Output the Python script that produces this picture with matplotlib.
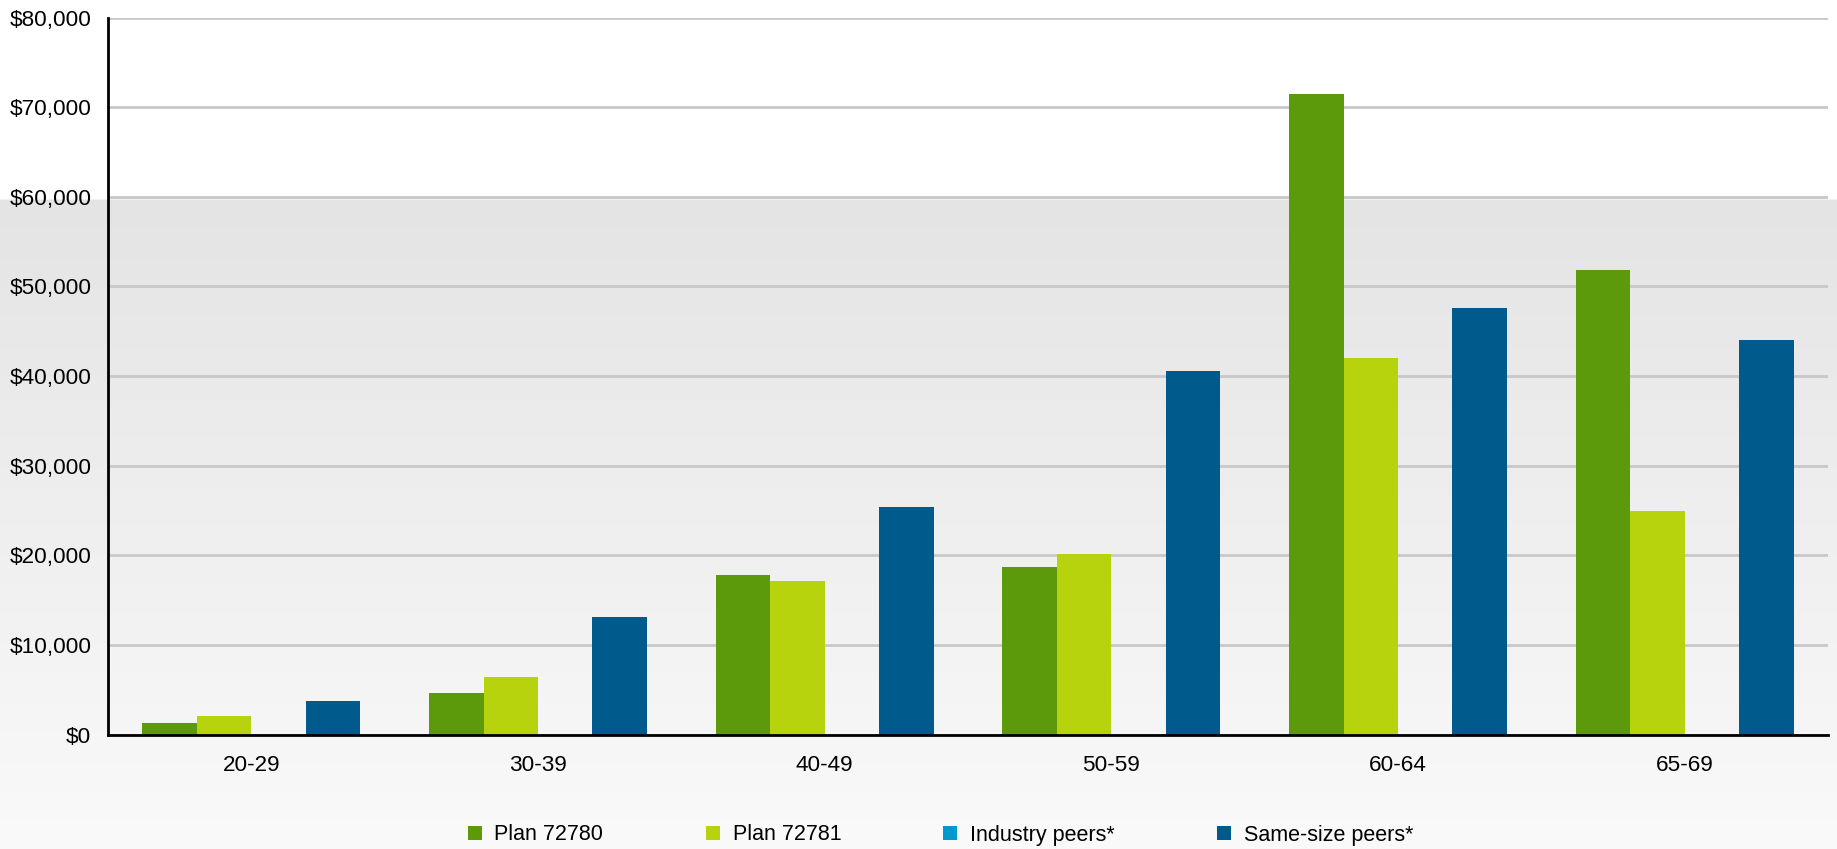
import numpy as np
import matplotlib
matplotlib.use("Agg")
import matplotlib.pyplot as plt
from matplotlib.patches import Patch
from matplotlib.ticker import FuncFormatter, MultipleLocator

categories = ["20-29", "30-39", "40-49", "50-59", "60-64", "65-69"]
series_names = ["Plan 72780", "Plan 72781", "Industry peers*", "Same-size peers*"]
plan_72780 = [1300, 4600, 17800, 18700, 71500, 51800]
plan_72781 = [2100, 6400, 17100, 20200, 42000, 24900]
industry_peers = [0, 0, 0, 0, 0, 0]
same_size_peers = [3700, 13100, 25400, 40600, 47600, 44000]
colors = ["#5c9a0c", "#b7d30e", "#0099cc", "#005a8c"]

plt.rcParams['font.family'] = ['Liberation Sans', 'DejaVu Sans']

W, H = 1837, 849
fig = plt.figure(figsize=(W / 100, H / 100), dpi=100)
fig.patch.set_facecolor("white")

# background gradient (white above the $60,000 line, grey fading to near-white below)
bg = fig.add_axes([0, 0, 1, 1], zorder=-10)
bg.set_axis_off()
ys = np.linspace(0, 1, 400)
split = 1 - 198 / H
col = np.ones((400, 1, 3))
for i, y in enumerate(ys):
    if y <= split:
        t = y / split
        v = 0.980 + (0.894 - 0.980) * t
        col[i, 0, :] = v
bg.imshow(col, aspect='auto', origin='lower', extent=[0, 1, 0, 1])
bg.set_xlim(0, 1)
bg.set_ylim(0, 1)

ax = fig.add_axes([108 / W, 1 - 734.6 / H, (1828 - 108) / W, (734.6 - 17.6) / H])
ax.patch.set_alpha(0)

x = np.arange(len(categories))
bw = 0.19
data = [plan_72780, plan_72781, industry_peers, same_size_peers]
offsets = [-1.5 * bw, -0.5 * bw, 0.5 * bw, 1.5 * bw]
for vals, off, c in zip(data, offsets, colors):
    ax.bar(x + off, vals, width=bw, color=c, zorder=3, linewidth=0)

ax.set_xlim(-0.5, len(categories) - 0.5)
ax.set_ylim(0, 80000)
ax.yaxis.set_major_locator(MultipleLocator(10000))
ax.yaxis.set_major_formatter(FuncFormatter(lambda v, p: f"${int(v):,}"))
ax.set_xticks(x)
ax.set_xticklabels(categories)
ax.tick_params(axis='both', length=0, labelsize=16.2, colors='black')
ax.tick_params(axis='y', pad=12)
ax.tick_params(axis='x', pad=15)
ax.grid(axis='y', color='#c8c8c8', linewidth=2, zorder=1)
ax.set_axisbelow(True)
for s in ['top', 'right']:
    ax.spines[s].set_visible(False)
ax.spines['left'].set_linewidth(2)
ax.spines['bottom'].set_linewidth(2)
ax.spines['left'].set_zorder(4)
ax.spines['bottom'].set_zorder(4)

handles = [Patch(facecolor=c, edgecolor='none') for c in colors]
fig.legend(handles, series_names, loc='center', bbox_to_anchor=(0.512, 1 - 835 / H),
           ncol=4, frameon=False, fontsize=15.5, handlelength=0.65, handleheight=0.65,
           handletextpad=0.6, columnspacing=4.75)

fig.savefig("out.png", dpi=100)
